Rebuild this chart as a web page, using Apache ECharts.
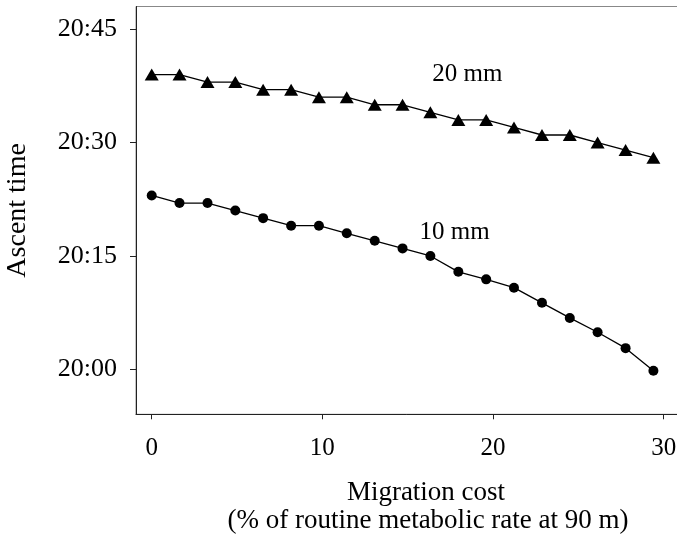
<!DOCTYPE html>
<html>
<head>
<meta charset="utf-8">
<script src="https://cdn.jsdelivr.net/npm/echarts@6/dist/echarts.min.js"></script>
<style>
html,body{margin:0;padding:0;background:#fff;}
#main{width:677px;height:541px;}
</style>
</head>
<body>
<div id="main"></div>
<script>
// Migration cost (% of routine metabolic rate at 90 m)
const migrationCost = [0, 1.63, 3.27, 4.9, 6.53, 8.17, 9.8, 11.43, 13.07, 14.7, 16.33, 17.97, 19.6, 21.23, 22.87, 24.5, 26.13, 27.77, 29.4];
// Ascent time, minutes after 20:00
const ascent20mm = [39, 39, 38, 38, 37, 37, 36, 36, 35, 35, 34, 33, 33, 32, 31, 31, 30, 29, 28];
const ascent10mm = [23, 22, 22, 21, 20, 19, 19, 18, 17, 16, 15, 12.9, 11.9, 10.8, 8.8, 6.8, 4.9, 2.8, -0.2];
const xTicks = [0, 10, 20, 30];
const yTicks = [0, 15, 30, 45];
const yTickLabels = ['20:00', '20:15', '20:30', '20:45'];
const annotations = [
  { name: '20 mm', x: 18.5, y: 39 },
  { name: '10 mm', x: 17.75, y: 18.1 }
];

const FONT = '"Liberation Serif", "Times New Roman", serif';
const chart = echarts.init(document.getElementById('main'), null, { renderer: 'canvas' });

const pairs = (ys) => migrationCost.map((x, i) => [x, ys[i]]);

chart.setOption({
  backgroundColor: '#fff',
  animation: false,
  grid: {
    left: 136, top: 6.5, right: -2, bottom: 126.7,
    outerBoundsMode: 'none', containLabel: false,
    show: true, borderColor: '#888', borderWidth: 1, backgroundColor: 'transparent'
  },
  xAxis: {
    type: 'value', min: -0.92, max: 30.9,
    axisLine: { show: true, onZero: false, lineStyle: { color: '#222', width: 1 } },
    axisTick: { show: true, customValues: xTicks, length: 5, inside: false, lineStyle: { color: '#222' } },
    axisLabel: { customValues: xTicks, margin: 22, fontFamily: FONT, fontSize: 25, color: '#000' },
    splitLine: { show: false }
  },
  yAxis: {
    type: 'value', min: -5.95, max: 48,
    axisLine: { show: true, onZero: false, lineStyle: { color: '#222', width: 1 } },
    axisTick: { show: true, customValues: yTicks, length: 6, lineStyle: { color: '#222' } },
    axisLabel: {
      customValues: yTicks, margin: 19, fontFamily: FONT, fontSize: 26, color: '#000',
      formatter: (v) => yTickLabels[yTicks.indexOf(Math.round(v))] || ''
    },
    splitLine: { show: false },
    name: 'Ascent time', nameLocation: 'middle', nameGap: 104, nameRotate: 90,
    nameTextStyle: { fontFamily: FONT, fontSize: 28, color: '#000' }
  },
  series: [
    {
      name: '20 mm', type: 'line', data: pairs(ascent20mm),
      symbol: 'triangle', symbolSize: [14, 12], showAllSymbol: true,
      lineStyle: { color: '#000', width: 1.3 }, itemStyle: { color: '#000' }
    },
    {
      name: '10 mm', type: 'line', data: pairs(ascent10mm),
      symbol: 'circle', symbolSize: 10, showAllSymbol: true,
      lineStyle: { color: '#000', width: 1.3 }, itemStyle: { color: '#000' }
    }
  ]
});

// axis title and annotations (annotations placed through the chart's own coordinate system)
const graphics = [
  { type: 'text', x: 426, y: 493, style: { text: 'Migration cost', fontFamily: FONT, fontSize: 27, fill: '#000', textAlign: 'center', textVerticalAlign: 'middle' } },
  { type: 'text', x: 428, y: 521, style: { text: '(% of routine metabolic rate at 90 m)', fontFamily: FONT, fontSize: 27, fill: '#000', textAlign: 'center', textVerticalAlign: 'middle' } }
].concat(annotations.map(a => {
  const p = chart.convertToPixel({ gridIndex: 0 }, [a.x, a.y]);
  return { type: 'text', x: p[0], y: p[1], style: { text: a.name, fontFamily: FONT, fontSize: 25, fill: '#000', textAlign: 'center', textVerticalAlign: 'middle' } };
}));
chart.setOption({ graphic: graphics });
</script>
</body>
</html>
